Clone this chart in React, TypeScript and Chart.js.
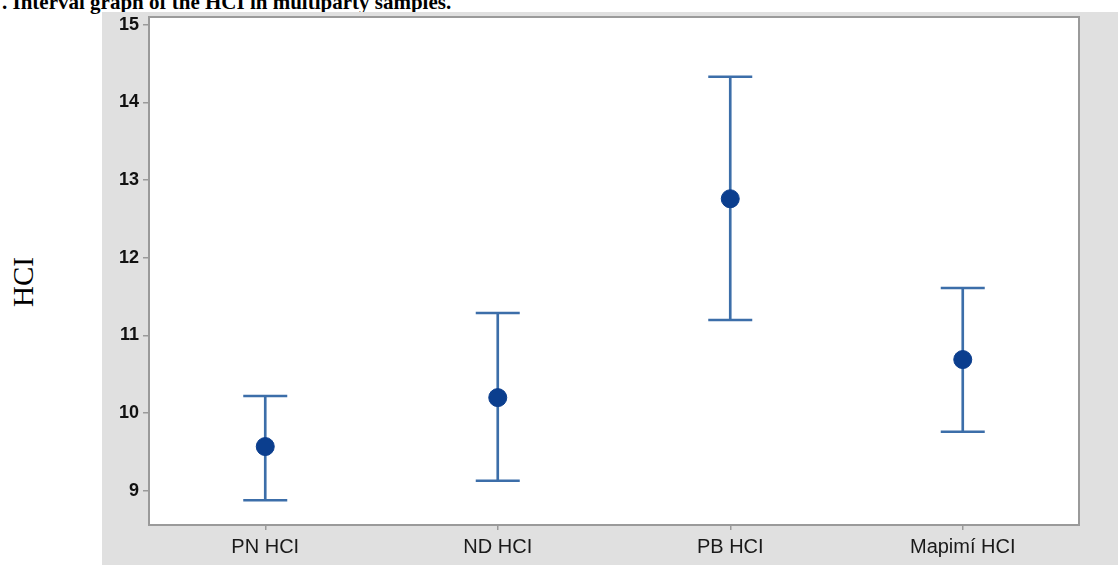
import React, { useEffect, useRef } from "react";
import { Chart, registerables } from "chart.js";

Chart.register(...registerables);

const categories = ["PN HCI", "ND HCI", "PB HCI", "Mapimí HCI"];
const means = [9.57, 10.2, 12.76, 10.69];
const upper = [10.22, 11.29, 14.33, 11.61];
const lower = [8.88, 9.13, 11.2, 9.76];
const yTicks = [9, 10, 11, 12, 13, 14, 15];

const LINE = "#3c6ea9";
const DOT = "#0b3e8e";
const BORDER = "#9a9a9a";

const boxPlugin = {
  id: "box",
  beforeDraw(chart: any) {
    const { ctx, chartArea: a } = chart;
    ctx.save();
    ctx.fillStyle = "#ffffff";
    ctx.fillRect(a.left, a.top, a.right - a.left, a.bottom - a.top);
    ctx.restore();
  },
  afterDraw(chart: any) {
    const { ctx, chartArea: a } = chart;
    ctx.save();
    ctx.strokeStyle = BORDER;
    ctx.lineWidth = 2;
    ctx.strokeRect(a.left, a.top, a.right - a.left, a.bottom - a.top);
    ctx.restore();
  },
};

export default function App() {
  const ref = useRef<HTMLCanvasElement>(null);
  useEffect(() => {
    if (!ref.current) return;
    const chart = new Chart(ref.current, {
      type: "bar",
      data: {
        labels: categories,
        datasets: [
          {
            type: "bar",
            data: lower.map((l, i) => [l, upper[i]]) as any,
            backgroundColor: LINE,
            barThickness: 2,
            order: 3,
          } as any,
          {
            type: "line",
            data: upper,
            showLine: false,
            pointStyle: "line",
            pointRadius: 22,
            pointHoverRadius: 22,
            pointBorderWidth: 2.5,
            borderColor: LINE,
            order: 2,
          },
          {
            type: "line",
            data: lower,
            showLine: false,
            pointStyle: "line",
            pointRadius: 22,
            pointHoverRadius: 22,
            pointBorderWidth: 2.5,
            borderColor: LINE,
            order: 2,
          },
          {
            type: "line",
            data: means,
            showLine: false,
            pointStyle: "circle",
            pointRadius: 9,
            pointHoverRadius: 9,
            backgroundColor: DOT,
            borderColor: DOT,
            pointBorderWidth: 1,
            order: 1,
          },
        ],
      },
      options: {
        animation: false,
        responsive: false,
        maintainAspectRatio: false,
        layout: { autoPadding: false, padding: { top: 5, right: 39, left: 0, bottom: 0 } },
        plugins: { legend: { display: false }, tooltip: { enabled: false } },
        scales: {
          x: {
            offset: true,
            grid: { drawOnChartArea: false, offset: false, tickLength: 5, color: BORDER, lineWidth: 1.5 },
            border: { display: true, color: BORDER, width: 2 },
            ticks: {
              color: "#1a1a1a",
              font: { family: "Liberation Sans, Arial, sans-serif", size: 20 },
              padding: 5,
              maxRotation: 0,
            },
            afterFit(scale: any) {
              scale.height = 40;
              scale.paddingLeft = 0;
              scale.paddingRight = 0;
            },
          },
          y: {
            min: 8.56,
            max: 15.1,
            afterBuildTicks(scale: any) {
              scale.ticks = yTicks.map((v) => ({ value: v }));
            },
            grid: { drawOnChartArea: false, tickLength: 6, color: BORDER, lineWidth: 1.5 },
            border: { display: true, color: BORDER, width: 2 },
            ticks: {
              color: "#111111",
              font: { family: "Liberation Sans, Arial, sans-serif", size: 18, weight: "bold" },
              padding: 4,
            },
            afterFit(scale: any) {
              scale.width = 47;
              scale.paddingTop = 0;
              scale.paddingBottom = 0;
            },
          },
        },
      },
      plugins: [boxPlugin],
    });
    return () => chart.destroy();
  }, []);

  return (
    <div
      style={{
        position: "absolute",
        left: 0,
        top: 0,
        width: 1118,
        height: 565,
        background: "#ffffff",
        overflow: "hidden",
      }}
    >
      <div
        style={{
          position: "absolute",
          left: 2,
          top: -10,
          fontFamily: "'Liberation Serif', 'Times New Roman', serif",
          fontWeight: "bold",
          fontSize: 21,
          whiteSpace: "nowrap",
          color: "#000",
          lineHeight: "normal",
        }}
      >
        . Interval graph of the HCI in multiparty samples.
      </div>
      <div
        style={{
          position: "absolute",
          left: 23,
          top: 282,
          transform: "translate(-50%, -50%) rotate(-90deg)",
          fontFamily: "'Liberation Serif', 'Times New Roman', serif",
          fontSize: 29,
          color: "#000",
          whiteSpace: "nowrap",
          lineHeight: 1,
        }}
      >
        HCI
      </div>
      <div
        style={{
          position: "absolute",
          left: 102,
          top: 12,
          width: 1016,
          height: 553,
          background: "#e0e0e0",
        }}
      >
        <canvas ref={ref} width={1016} height={553} style={{ display: "block" }} />
      </div>
    </div>
  );
}
